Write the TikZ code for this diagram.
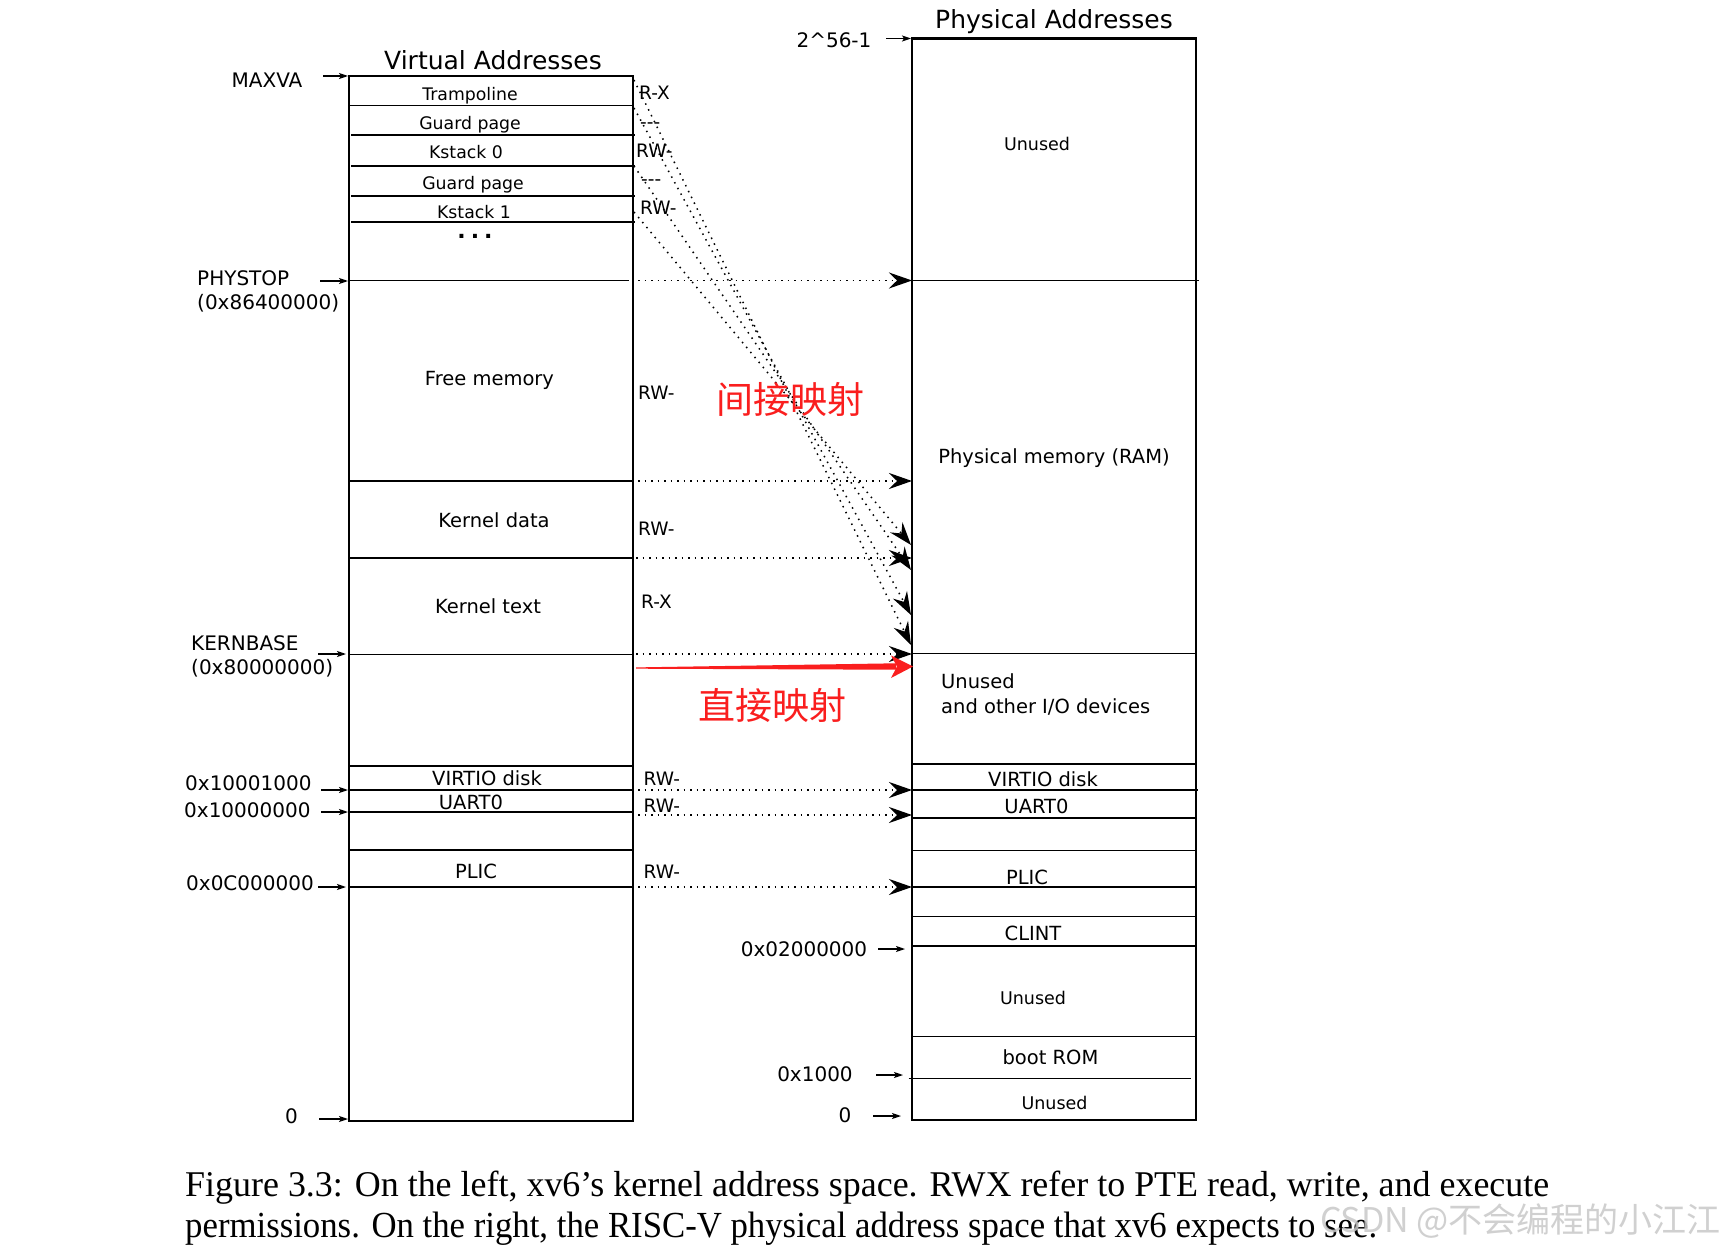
\documentclass[tikz,border=0pt]{standalone}
\usepackage{graphicx}
\usepackage{fontspec}
\setmainfont{DejaVu Sans}
\newfontfamily\capfont{Liberation Serif}
\newfontfamily\cjkfont{Noto Sans CJK SC}
\usetikzlibrary{arrows.meta}
\definecolor{mapred}{RGB}{250,30,30}
\definecolor{wmgray}{RGB}{200,200,200}
\begin{document}
\begin{tikzpicture}[x=1pt,y=-1pt,
  boxline/.style={line width=2.6pt},
  sepline/.style={line width=1.9pt},
  lab/.style={inner sep=0pt, text height=0.73em, text depth=0pt, yshift=-4pt, font=\fontsize{19.5}{22}\selectfont},
  smalllab/.style={lab, font=\fontsize{17.3}{20}\selectfont},
  unusedlab/.style={lab, font=\fontsize{17.5}{20}\selectfont},
  addrlab/.style={lab, font=\fontsize{20}{24}\selectfont},
  permlab/.style={lab, anchor=west, font=\fontsize{18.5}{21}\selectfont},
  titlelab/.style={lab, yshift=-2.5pt, font=\fontsize{25}{28}\selectfont},
  ptr/.style={line width=1.3pt, -{Stealth[length=9pt,width=6pt,inset=2pt]}},
  maparrow/.style={line width=1.5pt, dash pattern=on 1.5pt off 5pt, -{Stealth[length=23pt,width=16pt,inset=8pt]}},
  redtext/.style={inner sep=0pt, text=mapred, font=\cjkfont\fontsize{37}{40}\selectfont}
]
\useasboundingbox (0,0) rectangle (1725,1252);
\fill[white] (0,0) rectangle (1725,1252);

% ---------------- Virtual address space ----------------
\node[titlelab] (vatitle) at (493,59) {Virtual Addresses};
\draw[boxline] (349,76) rectangle (633,1121);
\draw[sepline] (349,105.5) -- (633,105.5);
\draw[sepline] (351,135.3) -- (635,135.3);
\draw[sepline] (351,166) -- (635,166);
\draw[sepline] (351,196) -- (635,196);
\draw[sepline] (351,222) -- (635,222);
\draw[sepline] (349,280.5) -- (629,280.5);
\draw[sepline] (349,481) -- (633,481);
\draw[sepline] (349,558) -- (633,558);
\draw[sepline] (349,654.5) -- (633,654.5);
\draw[sepline] (349,766) -- (633,766);
\draw[sepline] (349,790) -- (633,790);
\draw[sepline] (349,812) -- (633,812);
\draw[sepline] (349,850) -- (633,850);
\draw[sepline] (349,887) -- (633,887);

\node[smalllab] (tramp) at (470,92.5) {Trampoline};
\node[smalllab] (guard0) at (470,121.5) {Guard page};
\node[smalllab] (kst0) at (466,151) {Kstack 0};
\node[smalllab] (guard1) at (473,181.5) {Guard page};
\node[smalllab] (kst1) at (474,210.5) {Kstack 1};
\node[inner sep=0pt, anchor=base, font=\bfseries\fontsize{22}{24}\selectfont] (vdots) at (475,239) {.\hspace{5pt}.\hspace{5pt}.};
\node[lab] (freemem) at (489.5,378) {Free memory};
\node[lab] (kdata) at (494,520) {Kernel data};
\node[lab] (ktext) at (488,606) {Kernel text};
\node[lab] (vvirtio) at (487,778) {VIRTIO disk};
\node[lab] (vuart) at (471,802) {UART0};
\node[lab] (vplic) at (476,871) {PLIC};

% left address labels
\node[addrlab] (maxva) at (267,79.5) {MAXVA};
\node[addrlab, anchor=west] (phystop) at (197,278) {PHYSTOP};
\node[addrlab, anchor=west] (phystopv) at (197,302) {(0x86400000)};
\node[addrlab, anchor=west] (kbase) at (191,642.5) {KERNBASE};
\node[addrlab, anchor=west] (kbasev) at (191,667) {(0x80000000)};
\node[addrlab, anchor=west] (a1) at (185,783) {0x10001000};
\node[addrlab, anchor=west] (a2) at (184,809.5) {0x10000000};
\node[addrlab, anchor=west] (a3) at (186,883) {0x0C000000};
\node[addrlab] (vzero) at (291.5,1116) {0};

\coordinate (pMaxS) at (323,76);   \coordinate (pMaxE) at (348,76);
\coordinate (pPhS) at (320,281);   \coordinate (pPhE) at (348,281);
\coordinate (pKbS) at (318,654);   \coordinate (pKbE) at (346,654);
\coordinate (pA1S) at (321,790);   \coordinate (pA1E) at (348,790);
\coordinate (pA2S) at (321,812);   \coordinate (pA2E) at (348,812);
\coordinate (pA3S) at (318,887);   \coordinate (pA3E) at (346,887);
\coordinate (pZvS) at (319,1119);  \coordinate (pZvE) at (348,1119);
\draw[ptr] (pMaxS) -- (pMaxE);
\draw[ptr] (pPhS) -- (pPhE);
\draw[ptr] (pKbS) -- (pKbE);
\draw[ptr] (pA1S) -- (pA1E);
\draw[ptr] (pA2S) -- (pA2E);
\draw[ptr] (pA3S) -- (pA3E);
\draw[ptr] (pZvS) -- (pZvE);

% permissions
\node[permlab] (pr1) at (639,92) {R-X};
\node[permlab] (pr2) at (640,121) {-{}-{}-};
\node[permlab] (pr3) at (636,150) {RW-};
\node[permlab] (pr4) at (641,178) {-{}-{}-};
\node[permlab] (pr5) at (640,207) {RW-};
\node[permlab] (pr6) at (638,392) {RW-};
\node[permlab] (pr7) at (638,528) {RW-};
\node[permlab] (pr8) at (641,600.5) {R-X};
\node[permlab] (pr9) at (643.5,778) {RW-};
\node[permlab] (pr10) at (643.5,805) {RW-};
\node[permlab] (pr11) at (643.5,870.5) {RW-};

% ---------------- Physical address space ----------------
\node[titlelab] (patitle) at (1054,18) {Physical Addresses};
\draw[boxline] (912,38.5) rectangle (1196,1120);
\draw[sepline] (912,280.5) -- (1199,280.5);
\draw[sepline] (912,653.5) -- (1196,653.5);
\draw[sepline] (912,764) -- (1196,764);
\draw[sepline] (912,790) -- (1198,790);
\draw[sepline] (912,818) -- (1196,818);
\draw[sepline] (912,850.5) -- (1196,850.5);
\draw[sepline] (912,887) -- (1196,887);
\draw[sepline] (912,916.5) -- (1196,916.5);
\draw[sepline] (912,946) -- (1196,946);
\draw[sepline] (912,1036.5) -- (1196,1036.5);
\draw[sepline] (908.5,1078.5) -- (1191,1078.5);

\node[unusedlab] (pun1) at (1037,143) {Unused};
\node[lab] (pram) at (1054,455.5) {Physical memory (RAM)};
\node[lab, anchor=west] (pun2) at (941,680.5) {Unused};
\node[lab, anchor=west] (pio) at (941,706) {and other I/O devices};
\node[lab] (pvirtio) at (1043,779) {VIRTIO disk};
\node[lab] (puart) at (1036.5,806) {UART0};
\node[lab] (pplic) at (1027,877) {PLIC};
\node[lab] (pclint) at (1033,933) {CLINT};
\node[unusedlab] (pun3) at (1033,997) {Unused};
\node[lab] (pboot) at (1050.5,1057) {boot ROM};
\node[unusedlab] (pun4) at (1054.5,1101.5) {Unused};

\node[addrlab] (ptop) at (834,40) {2\^{}56-1};
\node[addrlab] (pclintv) at (804,948.5) {0x02000000};
\node[addrlab] (prom) at (815,1074) {0x1000};
\node[addrlab] (pzero) at (845,1115) {0};
\coordinate (qTopS) at (886,38.5);  \coordinate (qTopE) at (911,38.5);
\coordinate (qClS) at (878,949);    \coordinate (qClE) at (905,949);
\coordinate (qRoS) at (876,1075);   \coordinate (qRoE) at (903,1075);
\coordinate (qZS) at (873,1116);    \coordinate (qZE) at (901,1116);
\draw[ptr] (qTopS) -- (qTopE);
\draw[ptr] (qClS) -- (qClE);
\draw[ptr] (qRoS) -- (qRoE);
\draw[ptr] (qZS) -- (qZE);

% ---------------- mappings ----------------
\coordinate (m1s) at (638,280.5); \coordinate (m1e) at (912,280.5);
\coordinate (m2s) at (638,481);   \coordinate (m2e) at (912,481);
\coordinate (m3s) at (636,558);   \coordinate (m3e) at (912,558);
\coordinate (m4s) at (636,654);   \coordinate (m4e) at (912,654);
\coordinate (m5s) at (638,790);   \coordinate (m5e) at (912,790);
\coordinate (m6s) at (638,815);   \coordinate (m6e) at (912,815);
\coordinate (m7s) at (638,887);   \coordinate (m7e) at (912,887);
\foreach \i in {1,...,7} {\draw[maparrow] (m\i s) -- (m\i e);}

\coordinate (d1s) at (634,80);  \coordinate (d1e) at (911,645);
\coordinate (d2s) at (634,108); \coordinate (d2e) at (911,615);
\coordinate (d3s) at (634,166); \coordinate (d3e) at (911,570);
\coordinate (d4s) at (634,212); \coordinate (d4e) at (911,545);
\foreach \i in {1,...,4} {\draw[maparrow] (d\i s) -- (d\i e);}

% red direct-mapping arrow
\coordinate (rs) at (636,668);
\coordinate (re) at (913,666.5);
\fill[mapred] (rs) ++(0,-0.6) -- (896,663.3) -- (896,669.7) -- (636,668.7) -- cycle;
\fill[mapred] (891,655.5) -- (re) -- (891,678) -- (897,666.5) -- cycle;

\node[redtext] (indirect) at (790,399) {间接映射};
\node[redtext] (direct) at (772,705) {直接映射};

% ---------------- caption ----------------
\node[anchor=base west, inner sep=0pt] (cap1) at (185,1196)
  {\resizebox{1364pt}{25.5pt}{\capfont\fontsize{36}{40}\selectfont Figure 3.3: On the left, xv6’s kernel address space. RWX refer to PTE read, write, and execute}};
\node[anchor=base west, inner sep=0pt] (cap2) at (185,1237)
  {\resizebox{1192pt}{25.5pt}{\capfont\fontsize{36}{40}\selectfont permissions. On the right, the RISC-V physical address space that xv6 expects to see.}};
\node[anchor=east, inner sep=0pt, text=wmgray, opacity=0.85, font=\cjkfont\fontsize{34}{36}\selectfont] (wm) at (1721,1221) {CSDN @不会编程的小江江};
\end{tikzpicture}
\end{document}
